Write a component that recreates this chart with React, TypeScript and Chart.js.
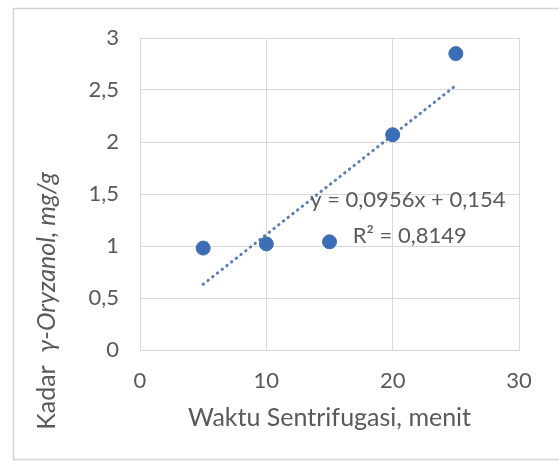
import React, { useEffect, useRef } from "react";
import { Chart, registerables } from "chart.js";

Chart.register(...registerables);

// ---- data ----
const xValues = [5, 10, 15, 20, 25];
const yValues = [0.98, 1.02, 1.04, 2.07, 2.85];
const trendX = [5, 25];
const trendY = [0.632, 2.544];
const xMin = 0;
const xMax = 30;
const xStep = 10;
const yMin = 0;
const yMax = 3;
const yStep = 0.5;
const equationText = "y = 0,0956x + 0,154";
const r2Text = "R² = 0,8149";
const xTitle = "Waktu Sentrifugasi, menit";
const yTitleNormal = "Kadar  ";
const yTitleItalic = "γ-Oryzanol, mg/g";
// label anchor positions in data units
const eqPos = [21.2, 1.44];
const r2Pos = [21.35, 1.1];

const FONT = "Lato, 'Noto Sans', sans-serif";
const TEXT = "#595959";
const GRID = "#d9d9d9";
const BLUE = "#3d6db5";

const fmt = (v: number) => String(v).replace(".", ",");

export default function App() {
  const ref = useRef<HTMLCanvasElement | null>(null);

  useEffect(() => {
    document.body.style.margin = "0";
    const canvas = ref.current!;
    const decor = {
      id: "decor",
      beforeDraw(chart: any) {
        const ctx = chart.ctx;
        ctx.save();
        ctx.fillStyle = "#ffffff";
        ctx.fillRect(0, 0, chart.width, chart.height);
        ctx.strokeStyle = "#d4d4d4";
        ctx.lineWidth = 1.5;
        ctx.strokeRect(13.5, 8.5, 600, 451);
        ctx.restore();
      },
      afterDraw(chart: any) {
        const ctx = chart.ctx;
        const xs = chart.scales.x;
        const ys = chart.scales.y;
        const area = chart.chartArea;
        ctx.save();
        ctx.fillStyle = TEXT;
        ctx.textBaseline = "middle";
        ctx.textAlign = "center";
        // equation
        ctx.font = `22px ${FONT}`;
        ctx.fillText(equationText, xs.getPixelForValue(eqPos[0]), ys.getPixelForValue(eqPos[1]));
        ctx.fillText(r2Text, xs.getPixelForValue(r2Pos[0]), ys.getPixelForValue(r2Pos[1]));
        // x title
        ctx.font = `25px ${FONT}`;
        ctx.fillText(xTitle, (area.left + area.right) / 2, area.bottom + 68);
        // y title (mixed style)
        ctx.translate(47, area.bottom - 49);
        ctx.rotate(-Math.PI / 2);
        ctx.textAlign = "left";
        ctx.font = `25px ${FONT}`;
        const w1 = ctx.measureText(yTitleNormal).width;
        ctx.font = `italic 25px ${FONT}`;
        const w2 = ctx.measureText(yTitleItalic).width;
        const start = -(w1 + w2) / 2;
        ctx.font = `25px ${FONT}`;
        ctx.fillText(yTitleNormal, start, 0);
        ctx.font = `italic 25px ${FONT}`;
        ctx.fillText(yTitleItalic, start + w1, 0);
        ctx.restore();
      },
    };

    const chart = new Chart(canvas, {
      type: "scatter",
      data: {
        datasets: [
          {
            type: "scatter",
            data: xValues.map((x, i) => ({ x, y: yValues[i] })),
            backgroundColor: BLUE,
            borderColor: BLUE,
            pointRadius: 7,
            pointHoverRadius: 7,
            order: 1,
          },
          {
            type: "line",
            data: trendX.map((x, i) => ({ x, y: trendY[i] })),
            borderColor: "#5f7fb3",
            borderWidth: 3,
            borderDash: [0.5, 5.5],
            borderCapStyle: "round",
            pointRadius: 0,
            fill: false,
            showLine: true,
            order: 2,
          } as any,
        ],
      },
      options: {
        responsive: false,
        animation: false,
        layout: { padding: { top: 38, right: 40, bottom: 0, left: 0 } },
        plugins: { legend: { display: false }, tooltip: { enabled: false } },
        scales: {
          x: {
            type: "linear",
            min: xMin,
            max: xMax,
            border: { color: GRID, width: 1 },
            grid: { color: GRID, drawTicks: false, tickLength: 0 },
            ticks: {
              stepSize: xStep,
              padding: 18,
              color: TEXT,
              font: { family: FONT, size: 22 },
              callback: (v: any) => fmt(v),
            },
            afterFit: (s: any) => {
              s.height = 111;
            },
          },
          y: {
            type: "linear",
            min: yMin,
            max: yMax,
            border: { color: GRID, width: 1 },
            grid: { color: GRID, drawTicks: false, tickLength: 0 },
            ticks: {
              stepSize: yStep,
              padding: 21,
              color: TEXT,
              font: { family: FONT, size: 22 },
              callback: (v: any) => fmt(v),
            },
            afterFit: (s: any) => {
              s.width = 140;
            },
          },
        },
      },
      plugins: [decor],
    });
    return () => chart.destroy();
  }, []);

  return (
    <div style={{ width: 559, height: 461 }}>
      <canvas ref={ref} width={559} height={461} style={{ display: "block" }} />
    </div>
  );
}
